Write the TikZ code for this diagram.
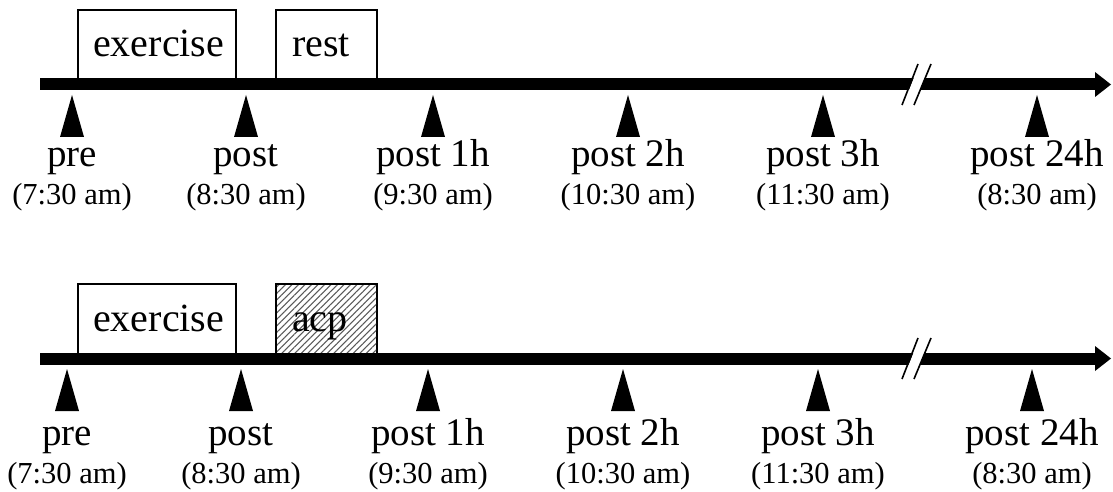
\documentclass[tikz,border=0pt]{standalone}
\usepackage{fontspec}
\setmainfont{Liberation Serif}
\usetikzlibrary{patterns.meta}
\begin{document}
\begin{tikzpicture}[x=1pt,y=-1pt,
  bar/.style={fill=black},
  marker/.style={fill=black},
  lab/.style={anchor=base, font=\fontsize{39}{42}\selectfont, inner sep=0pt},
  timelab/.style={anchor=base, font=\fontsize{30.5}{32}\selectfont, inner sep=0pt},
  boxtxt/.style={anchor=base west, font=\fontsize{40}{42}\selectfont, inner sep=0pt},
  phase/.style={draw=black, line width=2pt, fill=white},
  hatched/.style={pattern={Lines[angle=45,distance=4.6pt,line width=1.1pt]}, pattern color=black!65},
  brk/.style={line width=1.6pt}
]
\useasboundingbox (0,0) rectangle (1113,492);
\foreach \r/\oy/\dx/\ty in {1/0/0/0, 2/274/-5/279} {
  \begin{scope}[shift={(0,\oy)}]
    % phase boxes
    \draw[phase] (78,10) rectangle (236,84);
    \ifnum\r=1
      \draw[phase] (276,10) rectangle (377,84);
      \node[boxtxt] (b2-\r) at (292,57) {rest};
    \else
      \draw[phase] (276,10) rectangle (377,84);
      \fill[hatched] (277,11) rectangle (376,83);
      \node[boxtxt] (b2-\r) at (292,57) {acp};
    \fi
    \node[boxtxt] (b1-\r) at (93,57) {exercise};
    % time axis
    \coordinate (start-\r) at (40,84.5);
    \coordinate (tip-\r) at (1111,84.5);
    \fill[bar] (40,78.5) rectangle (1096,90.5);
    \fill[bar] (1095,72) -- (tip-\r) -- (1095,97) -- cycle;
    % break
    \fill[white] (903.5,104) -- (918.5,66) -- (929.5,66) -- (914.5,104) -- cycle;
    \draw[brk] (902,105) -- (918,64);
    \draw[brk] (914,105) -- (931,64);
  \end{scope}
  \begin{scope}[shift={(\dx,\oy)}]
    \foreach \i/\x in {1/72, 2/246, 3/433, 4/628, 5/823, 6/1037} {
      \coordinate (m-\r-\i) at (\x,95);
      \fill[marker] (m-\r-\i) -- ++(12,42) -- ++(-24,0) -- cycle;
    }
  \end{scope}
  \begin{scope}[shift={(\dx,\ty)}]
    \foreach \i/\x/\a/\b in {1/72/pre/7:30, 2/246/post/8:30, 3/433/post 1h/9:30,
        4/628/post 2h/10:30, 5/823/post 3h/11:30, 6/1037/post 24h/8:30} {
      \node[lab] (l-\r-\i) at (\x,166) {\a};
      \node[timelab] (t-\r-\i) at (\x,204) {(\b{} am)};
    }
  \end{scope}
}
\end{tikzpicture}
\end{document}
